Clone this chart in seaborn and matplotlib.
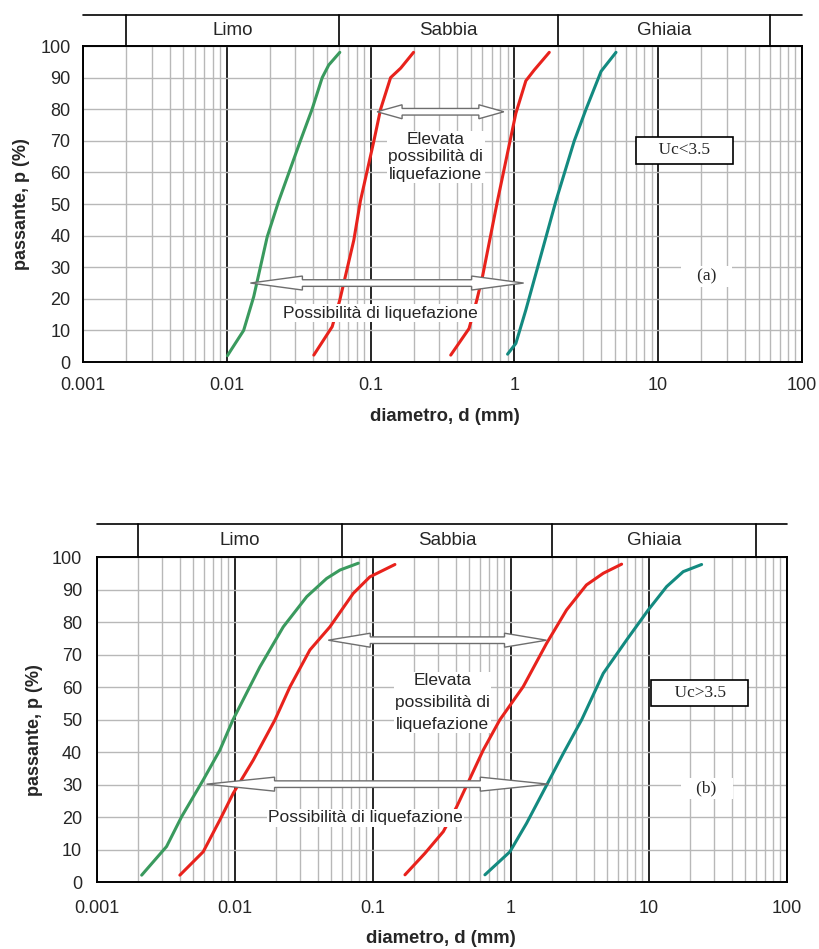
import numpy as np
import pandas as pd
import matplotlib
matplotlib.use('Agg')
import matplotlib.pyplot as plt
from matplotlib.patches import Polygon
from matplotlib.transforms import IdentityTransform
import seaborn as sns

# grain size curves, panel (a): Uc < 3.5
a_green_d = [0.0101, 0.0106, 0.0131, 0.0154, 0.0191, 0.0230, 0.0325, 0.0392, 0.0461, 0.0512, 0.0611]
a_green_p = [2, 3.5, 10, 20.7, 39.6, 51, 70, 80, 90, 94, 98]
a_red1_d = [0.0403, 0.0541, 0.0611, 0.0765, 0.085, 0.1055, 0.1174, 0.1378, 0.162, 0.199]
a_red1_p = [2.2, 11.2, 19.6, 38.6, 51, 70, 80, 90, 93, 98]
a_red2_d = [0.361, 0.484, 0.548, 0.600, 0.763, 1.024, 1.202, 1.374, 1.749]
a_red2_p = [2.2, 10.6, 19.6, 27, 51, 78.7, 89, 92.4, 98]
a_teal_d = [0.897, 1.024, 1.202, 1.452, 1.946, 2.61, 3.15, 4.01, 5.09]
a_teal_p = [2.5, 5.9, 16.5, 30, 51, 70, 80, 92, 98]

# panel (b): Uc > 3.5
b_green_d = [0.00212, 0.00321, 0.00413, 0.00592, 0.00782, 0.00972, 0.01525, 0.0225, 0.0333, 0.0464, 0.058, 0.0787]
b_green_p = [2.2, 11, 20.2, 31.5, 40.7, 50, 66.3, 78.6, 87.9, 93.5, 96.1, 98.2]
b_red1_d = [0.00401, 0.00592, 0.00782, 0.00977, 0.01364, 0.0196, 0.0252, 0.0351, 0.049, 0.0723, 0.0955, 0.145]
b_red1_p = [2.2, 9.4, 19.2, 27.4, 37.6, 50, 60.2, 71.5, 78.6, 88.9, 94, 97.8]
b_red2_d = [0.1715, 0.239, 0.325, 0.407, 0.508, 0.633, 0.835, 1.233, 1.82, 2.54, 3.54, 4.69, 6.37]
b_red2_p = [2.3, 8.9, 15.6, 23.3, 32, 40.7, 50, 60.2, 73.5, 83.8, 91.5, 95.1, 97.9]
b_teal_d = [0.651, 0.988, 1.306, 1.823, 2.41, 3.27, 4.69, 6.93, 9.93, 13.5, 17.8, 24.2]
b_teal_p = [2.3, 9.4, 18.2, 29.9, 39.7, 50, 64.3, 74.6, 83.8, 91, 95.6, 97.8]

soil_names = ['Limo', 'Sabbia', 'Ghiaia']
soil_limits = [0.002, 0.06, 2, 60]
x_ticks = [0.001, 0.01, 0.1, 1, 10, 100]
x_tick_labels = ['0.001', '0.01', '0.1', '1', '10', '100']
y_ticks = list(range(0, 101, 10))

colors = {'green': '#3a9a5e', 'red1': '#e8221c', 'red2': '#e8221c', 'teal': '#138a80'}


def make_df(green, red1, red2, teal):
    rows = []
    for name, (d, p) in zip(['green', 'red1', 'red2', 'teal'], [green, red1, red2, teal]):
        rows.append(pd.DataFrame({'d': d, 'p': p, 'curve': name}))
    return pd.concat(rows, ignore_index=True)


def hollow_arrow(ax, x0, x1, y, hl, hw=7, sw=3.3):
    # left-right block arrow (white with grey outline), built in pixels
    (px0, py), (px1, _) = ax.transData.transform([(x0, y), (x1, y)])
    verts = [(px0, py), (px0 + hl, py + hw), (px0 + hl, py + sw), (px1 - hl, py + sw),
             (px1 - hl, py + hw), (px1, py), (px1 - hl, py - hw), (px1 - hl, py - sw),
             (px0 + hl, py - sw), (px0 + hl, py - hw)]
    ax.add_patch(Polygon(verts, closed=True, fc='white', ec='#6e6e6e', lw=1,
                         transform=IdentityTransform(), zorder=4))


def draw_panel(ax, df, header_h, xpad, ypad):
    sns.lineplot(data=df, x='d', y='p', hue='curve', palette=colors, sort=False,
                 estimator=None, legend=False, lw=2.2, ax=ax, zorder=3)
    ax.set_xscale('log')
    ax.set_xlim(0.001, 100)
    ax.set_ylim(0, 100)
    ax.set_xticks(x_ticks)
    ax.set_xticklabels(x_tick_labels)
    ax.set_yticks(y_ticks)
    ax.xaxis.set_minor_locator(matplotlib.ticker.LogLocator(base=10, subs=np.arange(2, 10)))
    ax.xaxis.set_minor_formatter(matplotlib.ticker.NullFormatter())
    ax.tick_params(which='both', length=0, labelsize=13)
    ax.tick_params(axis='x', pad=xpad)
    ax.tick_params(axis='y', pad=ypad)
    ax.set_axisbelow(True)
    ax.grid(which='minor', axis='x', color='#b8b8b8', lw=1)
    ax.grid(which='major', axis='x', color='black', lw=1.2)
    ax.grid(which='major', axis='y', color='#b8b8b8', lw=1)
    for s in ax.spines.values():
        s.set_color('black')
        s.set_linewidth(1.4)

    ax.set_xlabel('diametro, d (mm)', fontweight='bold', fontsize=13.3)
    ax.set_ylabel('passante, p (%)', fontweight='bold', fontsize=13)

    # soil class header above the plot
    tr = ax.get_xaxis_transform()
    ax.plot([0, 1], [header_h, header_h], transform=ax.transAxes, color='black', lw=1.2, clip_on=False)
    for xd in soil_limits:
        ax.plot([xd, xd], [1, header_h], transform=tr, color='black', lw=1.2, clip_on=False)
    for name, lo, hi in zip(soil_names, soil_limits[:-1], soil_limits[1:]):
        ax.text(np.sqrt(lo * hi), (1 + header_h) / 2, name, transform=tr,
                ha='center', va='center', fontsize=13.5)


def notes(ax, uc_text, uc_xy, tag, tag_xy, up_arrow, up_hl, up_text_xy, low_arrow, low_hl,
          low_text_xy, spacing):
    hollow_arrow(ax, up_arrow[0], up_arrow[1], up_arrow[2], up_hl)
    hollow_arrow(ax, low_arrow[0], low_arrow[1], low_arrow[2], low_hl)
    ax.text(up_text_xy[0], up_text_xy[1], 'Elevata\npossibilità di\nliquefazione', ha='center',
            va='center', fontsize=12.5, linespacing=spacing, zorder=5,
            bbox=dict(fc='white', ec='none', pad=1))
    ax.text(low_text_xy[0], low_text_xy[1], 'Possibilità di liquefazione', ha='center',
            va='center', fontsize=12.5, zorder=5, bbox=dict(fc='white', ec='none', pad=1))
    serif = ['Liberation Serif', 'DejaVu Serif']
    ax.text(uc_xy[0], uc_xy[1], '    ' + uc_text + '    ', ha='center', va='center', fontsize=12.5,
            family=serif, zorder=5,
            bbox=dict(fc='white', ec='black', lw=1.2, boxstyle='square,pad=0.3'))
    ax.text(tag_xy[0], tag_xy[1], '   ' + tag + '   ', ha='center', va='center', fontsize=12.5,
            family=serif, zorder=5, bbox=dict(fc='white', ec='none', pad=2))


def main():
    sns.set_style('white')
    plt.rcParams['font.family'] = ['Liberation Sans', 'DejaVu Sans']

    fig = plt.figure(figsize=(8.19, 9.49), dpi=100)
    ax_a = fig.add_axes([0.1013, 0.6185, 0.8779, 0.333])
    ax_b = fig.add_axes([0.118, 0.0703, 0.8425, 0.3424])

    df_a = make_df((a_green_d, a_green_p), (a_red1_d, a_red1_p), (a_red2_d, a_red2_p), (a_teal_d, a_teal_p))
    df_b = make_df((b_green_d, b_green_p), (b_red1_d, b_red1_p), (b_red2_d, b_red2_p), (b_teal_d, b_teal_p))

    draw_panel(ax_a, df_a, 1.098, 11, 9)
    draw_panel(ax_b, df_b, 1.1025, 13, 10.5)

    notes(ax_a, 'Uc<3.5', (15.2, 67), '(a)', (21.6, 27),
          (0.111, 0.845, 79.2), 25, (0.284, 64.9), (0.0146, 1.16, 25), 52, (0.117, 15.5), 1.2)
    notes(ax_b, 'Uc>3.5', (23.5, 58.2), '(b)', (26.3, 28.9),
          (0.0477, 1.82, 74.5), 42, (0.321, 55.3), (0.00626, 1.875, 30.2), 68, (0.089, 19.8), 1.55)

    ax_a.xaxis.set_label_coords(0.503, -0.146)
    ax_b.xaxis.set_label_coords(0.499, -0.147)
    ax_a.yaxis.set_label_coords(-0.074, 0.5)
    ax_b.yaxis.set_label_coords(-0.078, 0.47)

    fig.savefig('out.png', dpi=100)


if __name__ == '__main__':
    main()
